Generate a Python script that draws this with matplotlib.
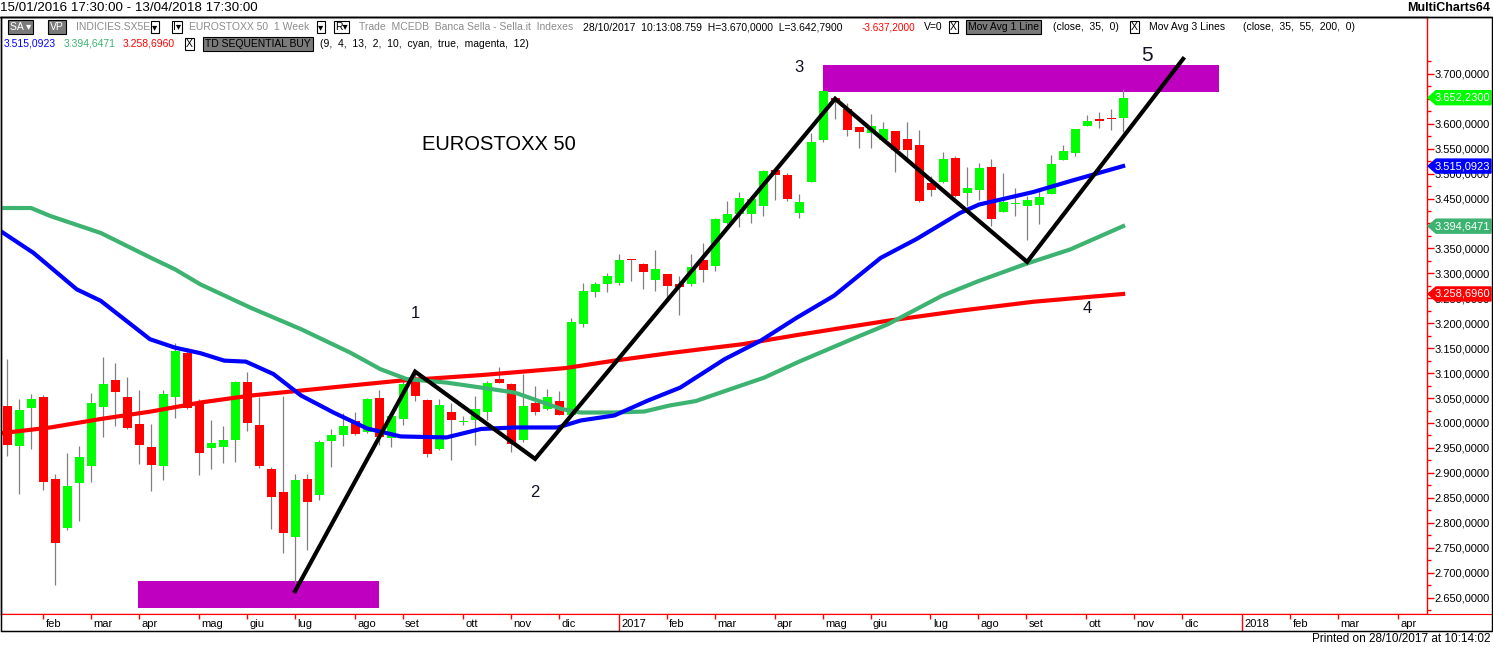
import numpy as np
import pandas as pd
import matplotlib
matplotlib.use("Agg")
import matplotlib.pyplot as plt
from matplotlib.patches import Rectangle, Polygon
from matplotlib.ticker import FixedLocator, FuncFormatter
from matplotlib.transforms import blended_transform_factory, IdentityTransform

plt.rcParams['font.family'] = ['Liberation Sans', 'DejaVu Sans']

W, H = 1493, 647

# weekly bars EUROSTOXX 50, first bar 15/01/2016
first_bar = "2016-01-15"
axis_end = "2018-04-13"

opens = [3035, 2953, 3030, 3052, 2888, 2789, 2879, 2913, 3033, 3086,
         3052, 2998, 2952, 2913, 3053, 3141, 3040, 2949, 2951, 2965,
         3082, 2996, 2908, 2862, 2771, 2888, 2855, 2963, 2975, 3004,
         2981, 3050, 2969, 3007, 3088, 3046, 2948, 3023, 3001, 3005,
         3023, 3088, 3078, 2965, 3040, 3029, 3044, 3017, 3199, 3263,
         3279, 3281, 3328, 3318, 3287, 3298, 3278, 3279, 3326, 3315,
         3401, 3419, 3419, 3435, 3508, 3498, 3421, 3483, 3567, 3652,
         3629, 3594, 3581, 3568, 3586, 3570, 3558, 3481, 3483, 3532,
         3461, 3467, 3514, 3423, 3439, 3435, 3438, 3459, 3527, 3541,
         3595, 3608, 3611, 3611]
highs = [3128, 3049, 3058, 3056, 2898, 2940, 2954, 3060, 3132, 3120,
         3092, 3066, 2998, 3066, 3160, 3151, 3049, 3006, 2994, 3084,
         3102, 3052, 2912, 3055, 2898, 2898, 2965, 2987, 3020, 3023,
         3050, 3066, 3016, 3088, 3105, 3048, 3048, 3041, 3013, 3055,
         3085, 3113, 3080, 3098, 3075, 3069, 3065, 3210, 3281, 3283,
         3301, 3338, 3329, 3320, 3346, 3299, 3295, 3338, 3360, 3411,
         3446, 3463, 3455, 3508, 3510, 3501, 3460, 3581, 3666, 3656,
         3641, 3594, 3620, 3603, 3586, 3603, 3587, 3495, 3544, 3535,
         3513, 3521, 3530, 3501, 3472, 3455, 3472, 3538, 3558, 3590,
         3618, 3623, 3629, 3670]
lows = [2933, 2857, 2947, 2865, 2675, 2785, 2803, 2881, 2971, 2993,
        2987, 2918, 2863, 2885, 3009, 3028, 2895, 2907, 2919, 2921,
        2983, 2910, 2787, 2739, 2680, 2745, 2845, 2911, 2953, 2975,
        2979, 2955, 2951, 2995, 3045, 2931, 2945, 2925, 2995, 2956,
        3005, 3080, 2941, 2962, 3015, 3027, 3015, 3015, 3193, 3253,
        3263, 3276, 3285, 3268, 3265, 3251, 3217, 3275, 3283, 3305,
        3399, 3393, 3400, 3415, 3448, 3445, 3411, 3483, 3563, 3610,
        3575, 3551, 3551, 3568, 3503, 3528, 3443, 3455, 3481, 3453,
        3435, 3448, 3395, 3423, 3415, 3366, 3399, 3459, 3527, 3535,
        3595, 3592, 3588, 3583]
closes = [2955, 3026, 3048, 2881, 2759, 2874, 2932, 3040, 3078, 3063,
          2989, 2955, 2915, 3058, 3144, 3031, 2939, 2960, 2966, 3082,
          2999, 2913, 2851, 2779, 2886, 2841, 2962, 2976, 2994, 2977,
          3048, 2971, 3014, 3078, 3055, 2937, 3036, 3005, 3004, 3028,
          3081, 3081, 2958, 3034, 3023, 3052, 3017, 3202, 3264, 3279,
          3294, 3326, 3326, 3303, 3308, 3275, 3273, 3312, 3307, 3408,
          3420, 3452, 3449, 3506, 3498, 3450, 3444, 3564, 3665, 3643,
          3587, 3583, 3596, 3590, 3547, 3547, 3445, 3467, 3530, 3455,
          3472, 3512, 3409, 3444, 3441, 3448, 3453, 3520, 3546, 3590,
          3606, 3606, 3609, 3652.23]

# moving averages (week index, value)
ma35_wk = [-1, 2.2, 5.8, 7.8, 11.9, 14.0, 16.1, 18.1, 19.9, 22.2, 24.5, 27.2,
           28.6, 30.0, 32.8, 36.6, 39.5, 42.3, 45.9, 47.8, 50.6, 53.4, 56.1,
           59.8, 62.8, 65.8, 68.9, 72.8, 75.8, 79.4, 81.0, 85.5, 88.6, 93.0]
ma35_val = [3392, 3341, 3268, 3245, 3168, 3151, 3140, 3125, 3123, 3098, 3055, 3021,
            3005, 2989, 2973, 2971, 2988, 2991, 2991, 3005, 3015, 3045, 3071,
            3128, 3165, 3211, 3255, 3331, 3369, 3421, 3438, 3463, 3485, 3515.0923]
ma55_wk = [-1, 2.0, 3.6, 7.8, 12.0, 14.0, 16.1, 20.3, 24.5, 28.6, 31.1, 33.3,
           36.6, 39.5, 42.3, 44.2, 46.2, 47.8, 50.6, 53.1, 55.2, 57.4, 60.3,
           63.1, 66.0, 70.4, 73.4, 77.9, 81.0, 84.9, 88.6, 93.0]
ma55_val = [3431, 3431, 3415, 3381, 3331, 3308, 3278, 3231, 3188, 3141, 3108, 3088,
            3081, 3071, 3061, 3045, 3028, 3021, 3021, 3023, 3035, 3044, 3068,
            3091, 3123, 3168, 3198, 3255, 3285, 3319, 3348, 3394.6471]
ma200_wk = [-1, 3.6, 7.8, 12.0, 16.1, 20.3, 24.5, 28.6, 32.8, 39.5, 46.5,
            50.6, 55.2, 58.9, 61.3, 66.0, 73.4, 79.4, 85.5, 93.0]
ma200_val = [2978, 2991, 3008, 3023, 3041, 3055, 3065, 3075, 3085, 3096, 3110,
             3125, 3140, 3151, 3158, 3177, 3205, 3225, 3243, 3258.6960]

# hand drawn Elliott waves and zones
wave_wk = [24, 34, 44, 69, 85, 98]
wave_val = [2663, 3103, 2928, 3650, 3323, 3730]
wave_labels = ["1", "2", "3", "4", "5"]
label_wk = [34, 44, 66, 90, 95]
label_val = [3220, 2860, 3712, 3230, 3736]
zones = [(10.95, 30.95, 2630, 2683), (67.95, 100.95, 3663, 3718)]

month_it = {2: "feb", 3: "mar", 4: "apr", 5: "mag", 6: "giu", 7: "lug",
            8: "ago", 9: "set", 10: "ott", 11: "nov", 12: "dic"}

YMIN, YMAX = 2617, 3814
XMIN = -0.55
WEEK_PX = 12.0

fig = plt.figure(figsize=(W / 100, H / 100), dpi=100)
ax = fig.add_axes([0.5 / W, 1 - 614 / H, 1426 / W, (614 - 17) / H])
ax.set_xlim(XMIN, XMIN + 1426 / WEEK_PX)
ax.set_ylim(YMIN, YMAX)

# zones
for x0, x1, y0, y1 in zones:
    ax.add_patch(Rectangle((x0, y0), x1 - x0, y1 - y0, color="#C000C0", lw=0, zorder=1))

# candles
x = np.arange(len(closes))
o, h, l, c = (np.array(a, dtype=float) for a in (opens, highs, lows, closes))
up = c >= o
ax.vlines(x, l, h, color="#808080", lw=0.9, zorder=2)
ax.bar(x, np.maximum(np.abs(c - o), 2.5), bottom=np.minimum(o, c), width=0.75,
       color=np.where(up, "#00FF00", "#FF0000"), lw=0, zorder=3)

# moving averages
ax.plot(ma200_wk, ma200_val, color="#FF0000", lw=3, zorder=4)
ax.plot(ma55_wk, ma55_val, color="#3CB371", lw=3, zorder=4)
ax.plot(ma35_wk, ma35_val, color="#0000FF", lw=3, zorder=4)

# waves
ax.plot(wave_wk, wave_val, color="black", lw=3, zorder=5, solid_joinstyle="miter")
for s, wx, wy in zip(wave_labels, label_wk, label_val):
    ax.text(wx, wy, s, fontsize=15 if s == "5" else 12, ha="center", va="center",
            color="#111122", zorder=6)
ax.text(40.95, 3558, "EUROSTOXX 50", fontsize=14.5, ha="center", va="center", zorder=6)

# right price axis
ax.yaxis.tick_right()
ax.yaxis.set_major_locator(FixedLocator(np.arange(2650, 3701, 50)))
ax.yaxis.set_minor_locator(FixedLocator(np.arange(2625, 3726, 50)))


def it_fmt(v, pos):
    s = f"{v:,.4f}"
    return s.replace(",", "#").replace(".", ",").replace("#", ".")


ax.yaxis.set_major_formatter(FuncFormatter(it_fmt))
ax.tick_params(axis="y", which="major", length=5, width=1, color="red",
               labelsize=8, pad=1, labelcolor="black")
ax.tick_params(axis="y", which="minor", length=3, width=1, color="red")
ax.set_xticks([])
for side, col in (("top", "black"), ("left", "black"), ("right", "red"), ("bottom", "red")):
    ax.spines[side].set_color(col)
    ax.spines[side].set_linewidth(1)

# last value markers
upp = (YMAX - YMIN) / (614 - 17)
tr = blended_transform_factory(IdentityTransform(), ax.transData)
markers = [(closes[-1], "#00FF00"), (ma35_val[-1], "#0000FF"),
           (ma55_val[-1], "#3CB371"), (ma200_val[-1], "#FF0000")]
for val, col in markers:
    hh = 7 * upp
    poly = Polygon([(1428, val), (1436, val + hh), (1491, val + hh),
                    (1491, val - hh), (1436, val - hh)], closed=True,
                   fc=col, ec=col, transform=tr, clip_on=False, zorder=10)
    ax.add_patch(poly)
    ax.text(1435, val, it_fmt(val, None), transform=tr, color="white", fontsize=8,
            va="center", ha="left", clip_on=False, zorder=11)

# date band
dax = fig.add_axes([0.5 / W, 1 - 631 / H, (W - 1) / W, 17 / H])
dax.set_xlim(XMIN, XMIN + W / WEEK_PX)
dax.set_ylim(0, 1)
dax.set_xticks([])
dax.set_yticks([])
dax.spines["top"].set_color("red")
for side in ("bottom", "left", "right"):
    dax.spines[side].set_color("black")

axis_dates = pd.date_range(first_bar, axis_end, freq="W-FRI")
for i in range(1, len(axis_dates)):
    d = axis_dates[i]
    if d.month == axis_dates[i - 1].month:
        continue
    if d.month == 1:
        dax.vlines(i, 0, 1, color="red", lw=1)
        lab = str(d.year)
    else:
        dax.vlines(i, 0.72, 1, color="red", lw=1)
        lab = month_it[d.month]
    dax.text(i + 0.2, 0.42, lab, fontsize=8, va="center", ha="left")


# header
def ftext(xp, yp, s, **kw):
    kw.setdefault("fontsize", 7.5)
    return fig.text(xp / W, 1 - yp / H, s, va="center", ha="left", **kw)


fig.add_artist(plt.Line2D([0, 1], [1 - 17 / H] * 2, color="black", lw=1,
                          transform=fig.transFigure))
fig.add_artist(Rectangle((0.5 / W, 1 - 631 / H), (W - 1.5) / W, (631 - 17) / H,
                         transform=fig.transFigure, fill=False, ec="black", lw=1))

ftext(0, 8, "15/01/2016 17:30:00 - 13/04/2018 17:30:00", fontsize=9.6)
fig.text(1490 / W, 1 - 8 / H, "MultiCharts64", fontsize=9, fontweight="bold",
         ha="right", va="center")
fig.text(1490 / W, 1 - 639 / H, "Printed on 28/10/2017 at 10:14:02", fontsize=8.5,
         ha="right", va="center")

gbox = dict(boxstyle="square,pad=0.2", fc="#7a7a7a", ec="black", lw=0.8)
wbox = dict(boxstyle="square,pad=0.12", fc="white", ec="black", lw=0.8)
ftext(10, 27, "SA ▾", color="white", bbox=gbox)
ftext(50, 27, "VP", color="white", bbox=gbox)
ftext(76, 27, "INDICIES.SX5E", color="#8c8c8c")
ftext(152, 27, "▾", bbox=wbox)
ftext(173, 27, "I▾", bbox=wbox)
ftext(189, 27, "EUROSTOXX 50  1 Week", color="#8c8c8c")
ftext(318, 27, "▾", bbox=wbox)
ftext(335, 27, "R▾", bbox=wbox)
ftext(359, 27, "Trade  MCEDB  Banca Sella - Sella.it  Indexes", color="#8c8c8c")
ftext(583, 27, "28/10/2017  10:13:08.759  H=3.670,0000  L=3.642,7900")
ftext(862, 27, "-3.637,2000", color="red", fontsize=7.2)
ftext(924, 27, "V=0")
ftext(950, 27, "X", bbox=wbox)
ftext(968, 27, "Mov Avg 1 Line", bbox=gbox)
ftext(1053, 27, "(close,  35,  0)")
ftext(1131, 27, "X", bbox=wbox)
ftext(1149, 27, "Mov Avg 3 Lines")
ftext(1243, 27, "(close,  35,  55,  200,  0)")

ftext(4, 44, "3.515,0923", color="#0000FF")
ftext(64, 44, "3.394,6471", color="#3CB371")
ftext(123, 44, "3.258,6960", color="red")
ftext(186, 44, "X", bbox=wbox)
ftext(205, 44, "TD SEQUENTIAL BUY", bbox=gbox)
ftext(320, 44, "(9,  4,  13,  2,  10,  cyan,  true,  magenta,  12)")

fig.savefig("out.png", dpi=100, facecolor="white")
